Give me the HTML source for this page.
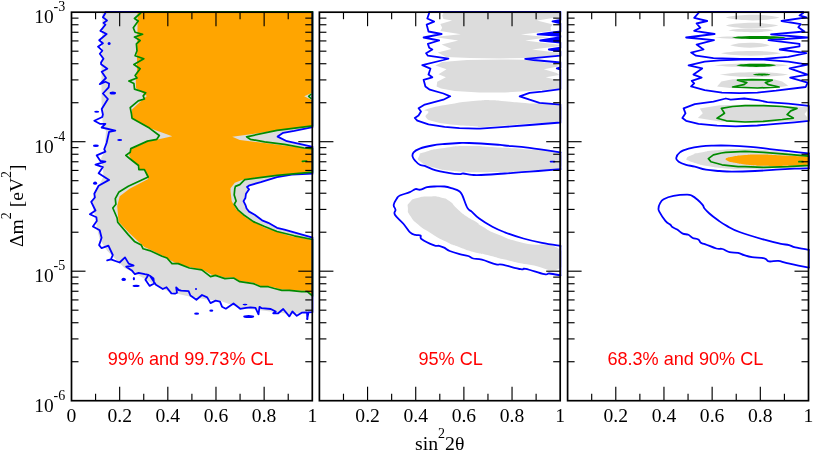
<!DOCTYPE html>
<html><head><meta charset="utf-8"><title>chart</title>
<style>
html,body{margin:0;padding:0;background:#fff;}
body{width:814px;height:452px;overflow:hidden;font-family:"Liberation Serif",serif;}
svg{display:block;will-change:transform;}
</style></head><body>
<svg width="814" height="452" viewBox="0 0 814 452">
<rect width="814" height="452" fill="#fff"/>
<defs><clipPath id="c0"><rect x="70.55" y="11.05" width="243.00" height="390.60"/></clipPath><clipPath id="c1"><rect x="318.45" y="11.05" width="243.00" height="390.60"/></clipPath><clipPath id="c2"><rect x="566.65" y="11.05" width="243.10" height="390.60"/></clipPath></defs><g clip-path="url(#c0)">
<path d="M102.5,11.9 L102.3,30.0 L101.5,62.0 L101.5,100.0 L102.0,115.0 L103.0,125.0 L106.0,131.0 L105.0,143.0 L104.0,152.0 L100.4,160.0 L102.9,167.0 L103.5,176.4 L98.6,186.3 L94.3,194.7 L91.8,202.4 L93.6,211.0 L96.1,218.5 L96.6,227.0 L99.7,239.5 L107.2,250.7 L119.6,263.0 L124.5,268.0 L133.0,272.0 L144.8,279.1 L157.0,286.0 L169.6,292.1 L189.4,296.5 L206.7,299.6 L219.8,300.8 L239.8,307.8 L264.6,310.8 L289.3,313.9 L310.4,312.7 L312.7,312.5 L312.7,237.7 L284.4,229.6 L277.0,227.8 L268.3,222.8 L262.1,220.3 L254.7,214.7 L249.1,211.6 L246.6,208.5 L245.4,204.8 L243.5,201.1 L245.4,198.0 L246.0,193.7 L249.1,189.3 L247.0,187.0 L249.5,185.3 L260.8,182.1 L277.0,177.1 L291.8,174.7 L312.7,173.7 L312.7,146.8 L301.7,144.3 L286.9,141.2 L277.6,136.6 L283.2,132.8 L294.3,130.9 L312.7,127.2 L312.7,11.9Z" fill="#dcdcdc" stroke="none" stroke-width="1.7" stroke-linejoin="round" stroke-linecap="round" />
<path d="M137.6,11.9 L137.6,20.0 L137.0,60.0 L137.0,70.0 L135.8,81.0 L136.0,88.0 L146.9,96.0 L140.0,102.0 L132.0,109.6 L132.0,118.2 L149.4,128.1 L172.3,136.2 L147.5,141.7 L130.8,149.2 L129.0,155.0 L131.0,159.0 L139.5,166.5 L139.0,169.6 L144.4,170.0 L148.2,178.9 L129.6,188.8 L119.7,196.2 L117.2,206.1 L118.4,219.8 L118.9,222.0 L129.5,233.3 L144.3,247.0 L151.0,250.0 L162.0,255.5 L174.5,262.4 L189.0,267.0 L201.8,269.2 L211.7,274.8 L219.8,275.8 L224.9,277.8 L233.6,277.2 L239.8,280.9 L253.4,282.8 L260.8,285.9 L268.3,285.9 L281.9,289.6 L301.7,290.8 L307.3,290.8 L312.7,295.0 L312.7,240.1 L289.3,235.8 L264.6,227.8 L246.0,217.8 L236.1,209.2 L231.7,201.1 L230.5,191.2 L230.5,188.3 L234.8,182.7 L244.7,179.0 L277.0,175.3 L312.7,171.6 L312.7,149.3 L264.6,143.1 L239.8,140.0 L232.3,136.8 L312.7,125.4 L312.7,100.6 L304.2,96.3 L312.7,92.6 L312.7,11.9Z" fill="#ffa500" stroke="none" stroke-width="1.7" stroke-linejoin="round" stroke-linecap="round" />
<path d="M105.4,11.9 L105.4,13.0 L102.9,17.3 L107.0,20.4 L103.5,22.9 L105.4,24.7 L100.4,30.9 L106.6,34.0 L99.2,40.2 L102.9,43.3 L98.0,46.7 L102.3,50.7 L99.8,53.8 L103.5,58.8 L101.0,62.5 L101.1,64.3 L107.3,68.7 L101.7,71.8 L106.0,78.0 L99.8,84.2 L105.4,81.7 L109.1,83.5 L108.7,87.3 L102.9,93.5 L107.9,99.0 L101.7,109.0 L102.9,114.5 L102.3,117.0 L94.3,120.7 L99.8,123.8 L105.4,123.8 L101.7,127.5 L115.3,130.6 L109.1,131.8 L106.6,143.0 L104.2,149.2 L105.4,151.7 L96.7,155.4 L100.4,161.0 L105.4,161.6 L95.5,164.7 L102.9,167.1 L98.6,173.3 L109.1,179.9 L98.6,185.7 L94.3,193.7 L94.9,197.5 L91.2,201.8 L95.5,210.5 L89.9,214.2 L96.4,217.3 L96.8,221.0 L92.9,226.5 L99.7,230.3 L101.6,237.7 L99.1,245.1 L101.6,248.2 L108.4,245.7 L112.8,255.0 L110.9,259.4 L107.2,260.4 L110.9,259.4 L119.6,262.5 L125.0,257.4 L128.7,263.6 L133.6,265.5 L126.2,266.7 L131.8,270.4 L134.9,274.2 L138.6,272.9 L144.8,274.2 L148.5,274.8 L145.4,279.7 L149.7,285.9 L154.1,283.5 L153.5,278.5 L149.8,275.6 L155.9,284.7 L162.8,289.0 L166.5,287.2 L171.4,293.4 L175.0,293.7 L177.0,292.8 L176.2,287.5 L178.7,290.0 L181.2,290.6 L188.6,291.2 L190.4,295.5 L196.4,299.8 L202.0,295.0 L207.2,297.4 L210.5,303.1 L215.6,300.6 L220.0,301.6 L222.0,306.7 L225.8,308.7 L233.5,303.5 L240.2,308.8 L246.0,307.8 L250.5,307.3 L255.5,307.9 L258.5,314.3 L259.5,306.8 L261.6,308.2 L270.8,309.0 L275.7,311.5 L273.2,313.3 L278.2,313.3 L283.2,309.0 L289.3,316.4 L292.4,311.5 L296.8,315.8 L301.7,312.7 L307.0,312.5 L307.3,318.5 L308.5,312.3 L312.7,312.1 L312.7,237.7 L284.4,229.6 L277.0,227.8 L268.3,222.8 L262.1,220.3 L254.7,214.7 L249.1,211.6 L246.6,208.5 L245.4,204.8 L243.5,201.1 L245.4,198.0 L246.0,193.7 L249.1,189.3 L247.0,187.0 L249.5,185.3 L260.8,182.1 L277.0,177.1 L291.8,174.7 L312.7,173.7 L312.7,146.8 L301.7,144.3 L286.9,141.2 L277.6,136.6 L283.2,132.8 L294.3,130.9 L312.7,127.2 L312.7,11.9Z" fill="none" stroke="#0000ff" stroke-width="1.8" stroke-linejoin="round" stroke-linecap="round" />
<path d="M140.7,11.9 L140.7,13.0 L134.5,18.5 L138.2,21.0 L133.3,27.8 L135.1,32.2 L142.6,34.3 L134.5,37.1 L140.1,40.5 L136.4,43.9 L137.0,50.7 L135.1,55.7 L143.8,58.8 L133.9,64.5 L140.1,68.7 L135.1,75.5 L137.0,78.0 L128.9,81.1 L133.9,83.5 L134.5,89.1 L145.7,92.8 L143.2,95.9 L144.4,99.0 L138.2,100.9 L130.2,107.7 L131.4,113.5 L132.0,118.2 L149.4,128.1 L159.3,135.5 L156.8,139.3 L147.5,141.1 L130.8,148.6 L130.2,152.3 L125.8,155.4 L129.6,158.5 L138.5,165.5 L138.9,169.6 L144.4,169.6 L148.2,177.0 L128.3,186.3 L119.0,191.9 L115.3,198.7 L115.9,204.3 L112.8,208.0 L117.1,218.0 L117.7,222.2 L128.2,234.6 L134.4,241.4 L141.3,245.1 L143.1,248.8 L149.7,250.6 L162.1,256.2 L167.0,258.0 L172.0,263.6 L178.2,263.6 L189.4,268.0 L201.8,269.8 L210.5,276.6 L215.4,275.4 L224.9,278.6 L233.6,278.0 L239.8,281.7 L253.4,283.6 L260.8,286.7 L268.3,286.7 L274.5,288.5 L281.9,290.4 L289.3,290.4 L301.7,291.6 L307.3,291.6 L312.7,296.0 L312.7,239.5 L294.3,235.8 L277.0,231.5 L264.6,226.5 L253.4,221.6 L243.5,214.7 L237.9,209.8 L234.2,204.2 L236.1,201.1 L234.2,194.9 L234.8,188.7 L235.4,186.4 L239.8,184.6 L244.7,179.6 L277.0,175.3 L312.7,172.2 L312.7,148.6 L304.2,148.0 L284.4,144.3 L264.6,141.8 L250.3,139.3 L246.6,136.8 L277.0,130.3 L312.7,125.9 L312.7,11.9Z" fill="none" stroke="#008b00" stroke-width="1.7" stroke-linejoin="round" stroke-linecap="round" />
<path d="M302.4,161.4 L306.7,161.0" fill="none" stroke="#008b00" stroke-width="1.7" stroke-linejoin="round" stroke-linecap="round" />
<path d="M311.0,94.2 L308.6,96.4 L311.0,98.4" fill="none" stroke="#008b00" stroke-width="1.5" stroke-linejoin="round" stroke-linecap="round" />
<ellipse cx="109.1" cy="43.6" rx="1.5" ry="1.5" fill="#0000ff"/>
<ellipse cx="112.8" cy="93.1" rx="3.2" ry="1.5" fill="#0000ff"/>
<ellipse cx="96.7" cy="111.7" rx="2.5" ry="1.0" fill="#0000ff"/>
<ellipse cx="119.7" cy="139.9" rx="2.5" ry="1.0" fill="#0000ff"/>
<ellipse cx="95.9" cy="145.7" rx="3.0" ry="1.3" fill="#0000ff"/>
<ellipse cx="95.1" cy="183.2" rx="2.0" ry="1.6" fill="#0000ff"/>
<ellipse cx="123.7" cy="279.4" rx="2.2" ry="1.6" fill="#0000ff"/>
<ellipse cx="133.9" cy="278.7" rx="1.1" ry="1.6" fill="#0000ff"/>
<ellipse cx="136.1" cy="285.9" rx="3.5" ry="1.1" fill="#0000ff"/>
<ellipse cx="196.0" cy="289.1" rx="1.0" ry="1.0" fill="#0000ff"/>
<ellipse cx="245.0" cy="304.6" rx="2.5" ry="0.8" fill="#0000ff"/>
<ellipse cx="196.6" cy="313.7" rx="2.5" ry="1.1" fill="#0000ff"/>
<ellipse cx="211.3" cy="310.7" rx="2.0" ry="1.1" fill="#0000ff"/>
<ellipse cx="248.7" cy="316.6" rx="5.5" ry="1.5" fill="#0000ff"/>
<ellipse cx="307.3" cy="318.9" rx="1.0" ry="1.2" fill="#0000ff"/>
</g>
<g clip-path="url(#c1)">
<path d="M444.0,11.9 L442.2,15.4 L443.4,19.0 L452.1,20.4 L440.3,24.1 L442.2,27.8 L440.3,30.9 L460.8,34.3 L434.1,37.1 L458.3,40.5 L441.6,44.6 L451.5,48.9 L437.8,52.6 L445.9,56.9 L470.0,58.1 L500.0,58.4 L525.0,58.0 L560.6,55.3 L560.6,53.0 L532.0,49.5 L560.6,46.0 L560.6,45.0 L525.2,40.5 L549.0,37.2 L520.9,34.4 L551.0,31.0 L550.6,27.0 L553.0,24.5 L537.0,20.4 L556.0,17.6 L560.6,16.8 L560.6,11.9Z" fill="#dcdcdc" stroke="none" stroke-width="1.7" stroke-linejoin="round" stroke-linecap="round" />
<path d="M442.2,61.9 L467.0,59.9 L500.0,59.4 L525.0,59.8 L554.3,63.7 L559.3,66.2 L543.8,69.3 L556.8,73.0 L559.3,74.9 L545.7,77.3 L559.3,80.4 L559.3,89.1 L529.6,91.0 L504.8,92.5 L479.3,92.5 L454.6,91.0 L441.0,88.5 L436.6,86.6 L437.2,81.7 L445.9,77.3 L438.5,74.3 L446.5,69.3 L435.4,65.6Z" fill="#dcdcdc" stroke="none" stroke-width="1.7" stroke-linejoin="round" stroke-linecap="round" />
<path d="M427.3,108.9 C434.3,106.6 440.7,105.6 454.6,103.4 C468.5,101.2 469.3,101.4 479.3,100.6 C489.3,99.8 485.2,100.1 492.0,100.3 C498.8,100.5 494.8,100.4 504.8,101.2 C514.8,102.0 515.1,102.3 529.6,103.4 C544.1,104.5 551.4,100.5 559.3,105.2 C567.2,109.9 567.2,116.1 559.3,121.0 C551.4,125.9 544.1,122.3 529.6,123.5 C515.1,124.7 518.0,124.5 504.8,125.4 C491.6,126.3 487.5,126.7 480.0,127.0 C472.5,127.3 482.9,127.0 476.8,126.5 C470.7,126.0 467.9,126.2 457.0,125.0 C446.1,123.8 444.2,123.9 435.9,121.9 C427.6,119.9 428.0,120.2 426.0,117.6 C424.0,115.0 428.2,114.3 428.5,112.0 C428.8,109.7 420.3,111.2 427.3,108.9Z" fill="#dcdcdc"/>
<path d="M429.2,11.9 L429.2,13.0 L427.3,18.5 L434.1,21.6 L426.7,24.7 L428.5,31.5 L441.6,34.0 L423.6,37.5 L439.1,40.5 L427.9,43.9 L429.2,47.7 L432.3,49.5 L426.1,53.2 L427.9,55.7 L448.4,58.6 L443.4,60.0 L422.3,65.2 L430.4,68.7 L428.5,74.6 L432.3,77.3 L423.6,79.8 L425.4,86.6 L429.8,89.7 L443.4,93.5 L450.2,96.3 L443.4,99.7 L424.8,104.6 L418.6,108.3 L421.0,111.5 L418.5,115.5 L414.8,117.9 L417.3,120.7 L428.5,124.4 L444.6,126.9 L459.4,128.1 L476.8,128.7 L480.0,128.7 L504.8,126.9 L529.6,125.0 L560.6,122.5 L560.6,104.6 L539.5,102.8 L529.6,99.7 L519.7,96.3 L529.6,92.8 L542.0,91.6 L560.6,89.1 L560.6,69.7 L556.8,68.4 L560.6,67.5 L560.6,62.5 L533.3,60.0 L525.2,58.8 L560.6,55.7 L560.6,51.4 L548.8,49.5 L560.6,47.7 L560.6,42.7 L540.1,40.5 L560.6,37.1 L560.6,35.9 L537.6,34.4 L560.6,31.5 L560.6,23.5 L552.5,21.4 L560.6,19.8 L560.6,11.9Z" fill="none" stroke="#0000ff" stroke-width="1.8" stroke-linejoin="round" stroke-linecap="round" />
<path d="M560.6,23.5 L552.5,21.4 L560.6,19.8Z" fill="#0000ff" stroke="none" stroke-width="1.7" stroke-linejoin="round" stroke-linecap="round" />
<path d="M560.6,35.9 L537.6,34.4 L560.6,31.5Z" fill="#0000ff" stroke="none" stroke-width="1.7" stroke-linejoin="round" stroke-linecap="round" />
<path d="M560.6,42.7 L540.1,40.5 L560.6,37.1Z" fill="#0000ff" stroke="none" stroke-width="1.7" stroke-linejoin="round" stroke-linecap="round" />
<path d="M560.6,51.4 L548.8,49.5 L560.6,47.7Z" fill="#0000ff" stroke="none" stroke-width="1.7" stroke-linejoin="round" stroke-linecap="round" />
<path d="M560.6,69.7 L556.8,68.4 L560.6,67.5Z" fill="#0000ff" stroke="none" stroke-width="1.7" stroke-linejoin="round" stroke-linecap="round" />
<path d="M419.2,156.0 C420.7,152.4 417.5,154.4 426.0,151.7 C434.5,149.0 430.2,149.8 444.6,147.9 C459.0,146.0 452.6,146.3 469.3,146.1 C486.0,145.9 474.7,146.2 494.8,147.3 C514.9,148.4 508.1,147.4 529.6,149.5 C551.1,151.6 549.4,147.3 559.3,153.5 C569.2,159.7 569.2,162.3 559.3,168.0 C549.4,173.7 547.8,169.1 529.6,170.5 C511.4,171.9 516.4,171.8 504.8,172.3 C493.2,172.8 505.8,171.9 494.8,171.9 C483.8,171.9 485.7,172.6 471.8,172.3 C457.9,172.0 465.2,172.5 453.2,171.1 C441.2,169.7 446.4,170.9 435.9,168.0 C425.4,165.1 427.2,166.4 421.6,162.4 C416.0,158.4 417.7,159.6 419.2,156.0Z" fill="#dcdcdc"/>
<path d="M560.6,152.3 C554.4,151.4 540.8,149.3 529.6,147.9 C518.4,146.5 511.8,146.2 504.8,145.5 C497.8,144.8 501.9,145.0 494.8,144.5 C487.7,144.0 476.4,143.3 469.3,143.0 C462.2,142.7 464.3,142.8 459.4,143.0 C454.5,143.2 450.0,143.5 444.6,144.0 C439.2,144.5 437.2,144.6 432.2,145.5 C427.2,146.4 423.5,147.2 419.8,148.6 C416.1,150.0 415.0,150.7 413.6,152.3 C412.2,153.9 412.2,154.9 412.6,156.6 C413.0,158.3 414.0,159.4 415.4,161.0 C416.8,162.6 417.9,163.8 419.8,164.8 C421.7,165.8 421.5,164.8 424.7,165.9 C427.9,167.0 431.2,169.0 435.9,170.4 C440.6,171.8 443.6,172.1 448.3,172.9 C453.0,173.7 456.4,174.1 459.4,174.2 C462.4,174.3 460.7,173.4 463.2,173.5 C465.7,173.6 468.2,174.5 471.8,174.8 C475.4,175.1 474.4,175.3 481.0,175.0 C487.6,174.7 495.1,174.2 504.8,173.5 C514.5,172.8 518.4,172.6 529.6,171.7 C540.8,170.8 554.4,169.7 560.6,169.2" fill="none" stroke="#0000ff" stroke-width="1.8" stroke-linejoin="round" stroke-linecap="round"/>
<path d="M560.6,152.3 L560.6,169.2" fill="none" stroke="#0000ff" stroke-width="1.8" stroke-linejoin="round" stroke-linecap="round" />
<path d="M550.6,161.6 L554.5,161.6" fill="none" stroke="#0000ff" stroke-width="1.8" stroke-linejoin="round" stroke-linecap="round" />
<path d="M407.9,208.5 C407.7,203.9 406.7,205.8 409.8,202.3 C412.9,198.8 410.6,200.0 417.2,198.0 C423.8,196.0 421.7,196.6 429.6,196.4 C437.5,196.2 434.2,195.8 440.8,197.4 C447.4,199.0 444.0,197.4 449.4,201.1 C454.8,204.8 451.1,203.3 456.9,208.5 C462.7,213.7 460.2,212.0 466.8,216.6 C473.4,221.2 471.6,219.0 476.7,222.2 C481.8,225.4 474.7,222.1 482.0,226.3 C489.3,230.5 484.8,229.3 498.6,234.8 C512.4,240.3 503.2,238.1 523.4,242.9 C543.6,247.7 547.3,240.6 559.3,249.1 C571.3,257.6 569.2,263.3 559.3,268.5 C549.4,273.7 547.8,267.8 529.6,264.8 C511.4,261.8 518.2,262.6 504.8,259.5 C491.4,256.4 499.4,257.8 489.3,255.4 C479.2,253.0 484.3,255.0 474.4,252.3 C464.5,249.6 469.5,251.0 459.6,247.3 C449.7,243.6 454.6,246.1 444.7,241.1 C434.8,236.1 438.5,237.8 429.8,232.4 C421.1,227.0 425.2,230.5 418.7,225.0 C412.2,219.5 414.0,221.5 410.4,216.0 C406.8,210.5 408.1,213.1 407.9,208.5Z" fill="#dcdcdc"/>
<path d="M560.6,275.4 C558.4,275.0 552.6,273.7 549.4,273.5 C546.2,273.3 549.1,275.1 544.4,274.2 C539.7,273.3 530.5,269.8 525.8,268.8 C521.1,267.8 525.6,270.0 520.9,269.2 C516.2,268.4 507.3,265.6 502.3,264.6 C497.3,263.6 500.2,265.3 496.1,264.3 C492.0,263.3 486.5,260.9 481.9,259.7 C477.3,258.5 475.9,259.2 473.2,258.5 C470.5,257.8 470.9,256.9 468.2,256.0 C465.5,255.1 463.3,255.1 459.6,254.1 C455.9,253.1 452.8,252.3 449.7,251.0 C446.6,249.7 446.2,248.6 444.1,247.6 C442.0,246.6 441.1,246.2 439.1,245.8 C437.1,245.4 437.7,246.7 434.2,245.4 C430.7,244.1 424.5,241.3 421.8,239.3 C419.1,237.3 421.7,236.4 420.5,235.5 C419.3,234.6 417.6,235.5 415.6,234.9 C413.6,234.3 412.8,234.9 410.4,232.7 C408.0,230.5 406.7,227.6 403.6,224.0 C400.5,220.4 396.5,217.5 394.9,214.7 C393.3,211.9 395.7,211.8 395.5,209.8 C395.3,207.8 393.4,207.0 393.7,204.8 C394.0,202.6 395.6,200.5 396.8,198.6 C398.0,196.7 397.3,196.8 399.9,195.5 C402.5,194.2 406.7,193.5 409.8,192.2 C412.9,190.9 413.3,189.6 415.4,189.1 C417.5,188.6 418.0,190.1 420.3,189.7 C422.6,189.3 424.2,187.8 427.1,187.2 C430.0,186.6 431.1,186.6 434.6,186.5 C438.1,186.4 440.8,186.1 444.5,186.5 C448.2,186.9 450.2,187.8 453.2,188.7 C456.2,189.6 457.5,189.8 459.3,191.2 C461.1,192.6 460.8,192.2 462.4,195.5 C464.0,198.8 465.5,204.7 467.4,207.9 C469.3,211.1 469.3,209.5 471.7,211.6 C474.1,213.7 475.1,215.5 479.2,218.5 C483.3,221.5 487.3,224.0 492.4,226.8 C497.5,229.6 498.6,230.0 504.8,232.3 C511.0,234.6 516.0,236.4 523.4,238.5 C530.8,240.6 534.6,241.4 542.0,242.9 C549.4,244.4 556.9,245.4 560.6,246.0" fill="none" stroke="#0000ff" stroke-width="1.8" stroke-linejoin="round" stroke-linecap="round"/>
<path d="M560.6,246.0 L560.6,275.4" fill="none" stroke="#0000ff" stroke-width="1.8" stroke-linejoin="round" stroke-linecap="round" />
</g>
<g clip-path="url(#c2)">
<path d="M725.8,17.6 C739.3,13.9 766.2,13.9 779.7,17.6 C766.2,21.3 739.3,21.3 725.8,17.6 Z" fill="#dcdcdc"/>
<path d="M725.8,25.6 C738.9,21.9 765.2,21.9 778.4,25.6 C765.2,29.3 738.9,29.3 725.8,25.6 Z" fill="#dcdcdc"/>
<path d="M728.2,30.3 C739.5,27.8 762.2,27.8 773.5,30.3 C762.2,32.8 739.5,32.8 728.2,30.3 Z" fill="#dcdcdc"/>
<path d="M714.0,37.5 C733.8,35.5 773.5,35.5 793.3,37.5 C773.5,39.5 733.8,39.5 714.0,37.5 Z" fill="#dcdcdc"/>
<path d="M732.0,37.5 C736.3,35.4 781.6,35.4 785.9,37.5 C781.6,39.6 736.3,39.6 732.0,37.5 Z" fill="#008b00"/>
<path d="M730.1,45.2 C740.0,41.9 759.9,41.9 769.8,45.2 C759.9,48.5 740.0,48.5 730.1,45.2 Z" fill="#dcdcdc"/>
<path d="M720.8,53.3 C735.8,50.2 765.9,50.2 780.9,53.3 C765.9,56.4 735.8,56.4 720.8,53.3 Z" fill="#dcdcdc"/>
<path d="M698.5,11.9 L698.5,13.0 L694.2,17.9 L707.2,21.0 L696.6,23.5 L700.4,27.8 L694.2,30.9 L714.6,34.0 L686.1,37.5 L714.0,40.2 L696.6,44.6 L703.5,49.5 L691.1,52.6 L696.0,55.7 L713.4,58.2 L740.0,58.8 L763.6,58.8 L788.3,56.9 L806.3,53.2 L779.7,49.5 L799.5,46.4 L799.5,43.9 L768.5,40.2 L807.6,37.5 L771.0,34.3 L804.5,31.5 L798.3,27.2 L800.7,24.1 L781.5,21.0 L806.3,17.3 L799.5,15.4 L803.2,13.0 L803.2,11.9Z" fill="none" stroke="#0000ff" stroke-width="1.8" stroke-linejoin="round" stroke-linecap="round" />
<path d="M714.6,65.3 C733.0,62.8 769.9,62.8 788.3,65.3 C769.9,67.8 733.0,67.8 714.6,65.3 Z" fill="#dcdcdc"/>
<path d="M736.3,65.3 C739.5,63.2 772.8,63.2 776.0,65.3 C772.8,67.4 739.5,67.4 736.3,65.3 Z" fill="#008b00"/>
<path d="M719.6,74.6 C736.8,71.3 771.1,71.3 788.3,74.6 C771.1,77.9 736.8,77.9 719.6,74.6 Z" fill="#dcdcdc"/>
<path d="M753.0,74.6 C754.4,73.1 769.0,73.1 770.4,74.6 C769.0,76.1 754.4,76.1 753.0,74.6 Z" fill="#008b00"/>
<path d="M717.1,86.4 L721.4,81.4 L732.6,79.2 L752.0,78.7 L773.5,79.2 L782.2,81.4 L788.3,85.7 L775.0,88.0 L752.0,88.6 L730.0,88.0Z" fill="#dcdcdc" stroke="none" stroke-width="1.7" stroke-linejoin="round" stroke-linecap="round" />
<path d="M737.5,80.2 L752.0,79.6 L772.2,80.2 L765.4,82.6 L768.5,84.7 L779.1,87.0 L757.4,88.0 L732.6,87.0 L743.7,84.7 L746.8,82.6Z" fill="none" stroke="#008b00" stroke-width="1.7" stroke-linejoin="round" stroke-linecap="round" />
<path d="M740.0,59.7 L719.6,60.3 L704.7,61.6 L688.6,65.3 L702.2,68.4 L693.5,74.6 L701.6,77.7 L691.7,80.8 L694.2,83.3 L691.1,86.4 L704.7,90.1 L722.0,92.6 L739.4,93.2 L757.4,92.6 L776.0,90.7 L805.7,87.0 L807.6,82.6 L790.2,77.7 L807.6,74.6 L789.6,68.4 L807.6,64.7 L788.3,61.6 L763.6,59.7Z" fill="none" stroke="#0000ff" stroke-width="1.8" stroke-linejoin="round" stroke-linecap="round" />
<path d="M699.7,108.4 L719.6,105.3 L750.0,104.4 L780.0,105.5 L806.9,106.9 L806.9,111.0 L804.5,114.0 L806.9,117.0 L806.9,120.2 L780.0,121.8 L750.0,122.8 L719.6,121.4 L697.9,118.1 L702.8,113.3Z" fill="#dcdcdc" stroke="none" stroke-width="1.7" stroke-linejoin="round" stroke-linecap="round" />
<path d="M721.4,108.4 L732.6,106.5 L745.0,105.7 L763.6,105.7 L782.2,106.5 L797.0,108.4 L790.8,110.9 L787.1,114.6 L793.3,118.1 L782.2,119.5 L763.6,121.4 L745.0,122.0 L726.4,120.8 L717.1,118.3 L724.5,113.3Z" fill="none" stroke="#008b00" stroke-width="1.7" stroke-linejoin="round" stroke-linecap="round" />
<path d="M683.6,108.4 L694.8,104.1 L713.4,101.6 L725.8,98.5 L730.7,99.7 L744.3,98.5 L759.2,100.3 L767.3,102.2 L788.3,103.7 L808.9,105.9 L808.9,120.8 L794.5,122.3 L776.0,123.9 L757.4,125.5 L735.7,126.4 L717.1,125.7 L698.5,123.9 L686.1,120.8 L682.4,118.1 L685.5,113.3Z" fill="none" stroke="#0000ff" stroke-width="1.8" stroke-linejoin="round" stroke-linecap="round" />
<path d="M686.7,158.3 C687.7,156.4 687.2,157.0 692.0,155.0 C696.8,153.0 691.8,154.1 701.0,152.4 C710.2,150.7 704.9,151.0 719.6,149.9 C734.3,148.8 728.3,148.8 745.0,149.0 C761.7,149.2 755.4,149.4 769.8,150.6 C784.2,151.8 775.9,151.2 788.3,152.7 C800.7,154.2 797.1,153.9 807.0,155.0 C816.9,156.1 814.3,152.2 818.0,156.0 C821.7,159.8 821.7,162.8 818.0,166.5 C814.3,170.2 816.9,166.6 807.0,167.0 C797.1,167.4 800.7,167.1 788.3,167.6 C775.9,168.1 784.2,167.9 769.8,168.5 C755.4,169.1 759.7,169.3 745.0,169.3 C730.3,169.3 738.4,169.6 725.8,168.5 C713.2,167.4 717.5,167.9 707.2,166.0 C696.9,164.1 700.9,164.6 694.8,162.9 C688.7,161.2 691.7,162.3 689.0,160.8 C686.3,159.3 685.7,160.2 686.7,158.3Z" fill="#dcdcdc"/>
<path d="M725.8,159.2 C725.8,158.2 725.3,158.6 727.5,157.8 C729.7,157.0 726.5,157.6 732.3,156.7 C738.1,155.8 735.8,155.8 745.0,155.1 C754.2,154.4 747.6,154.5 760.0,154.6 C772.4,154.7 765.9,154.8 782.2,155.5 C798.5,156.2 797.0,156.1 808.9,156.7 C820.8,157.3 815.0,154.7 818.0,157.2 C821.0,159.7 821.0,161.8 818.0,164.3 C815.0,166.8 818.8,164.3 808.9,164.8 C799.0,165.3 803.4,165.5 788.3,165.8 C773.2,166.1 778.0,166.2 763.6,165.8 C749.2,165.4 755.4,165.7 745.0,164.5 C734.6,163.3 738.1,163.5 732.3,162.3 C726.5,161.1 729.7,161.8 727.5,160.8 C725.3,159.8 725.8,160.2 725.8,159.2Z" fill="#ffa500"/>
<path d="M708.4,158.6 L713.4,154.9 L721.4,153.0 L725.8,152.4 L745.0,151.4 L763.6,152.4 L782.2,153.9 L808.9,156.1 L808.9,165.4 L788.3,166.6 L763.6,167.3 L745.0,166.6 L738.2,166.6 L722.0,164.8 L710.9,161.7Z" fill="none" stroke="#008b00" stroke-width="1.7" stroke-linejoin="round" stroke-linecap="round" />
<path d="M798.9,161.7 L803.0,161.7" fill="none" stroke="#008b00" stroke-width="1.7" stroke-linejoin="round" stroke-linecap="round" />
<path d="M808.9,168.3 C806.0,168.4 801.1,168.4 794.5,168.7 C787.9,169.0 783.9,169.2 776.0,169.7 C768.1,170.2 763.7,170.6 754.9,171.0 C746.1,171.4 739.1,171.6 732.0,171.6 C724.9,171.6 724.8,171.4 719.6,171.0 C714.4,170.6 710.9,170.6 705.9,169.7 C700.9,168.8 698.8,167.6 694.8,166.6 C690.8,165.6 689.3,165.8 686.1,164.8 C682.9,163.8 680.7,163.1 678.7,161.7 C676.7,160.3 676.0,159.9 676.2,158.0 C676.4,156.1 677.4,154.3 679.9,152.4 C682.4,150.5 684.4,149.9 688.6,148.7 C692.8,147.5 696.0,147.0 701.0,146.4 C706.0,145.8 707.7,145.8 713.4,145.6 C719.1,145.4 722.1,145.4 729.5,145.6 C736.9,145.8 742.4,146.1 750.5,146.8 C758.6,147.5 762.2,148.2 769.8,149.1 C777.4,150.0 780.5,150.3 788.3,151.2 C796.1,152.1 804.8,153.0 808.9,153.4" fill="none" stroke="#0000ff" stroke-width="1.8" stroke-linejoin="round" stroke-linecap="round"/>
<path d="M808.9,153.4 L808.9,168.3" fill="none" stroke="#0000ff" stroke-width="1.8" stroke-linejoin="round" stroke-linecap="round" />
<path d="M808.9,267.6 C806.8,267.2 803.0,266.5 798.4,265.6 C793.8,264.7 790.0,263.8 786.0,262.9 C782.0,262.0 781.6,261.2 778.2,260.9 C774.8,260.6 771.7,261.9 768.9,261.4 C766.1,260.9 767.7,259.1 764.3,258.3 C760.9,257.5 755.9,257.8 751.9,257.2 C747.9,256.6 747.0,256.1 744.2,255.2 C741.4,254.3 740.9,253.5 738.0,252.9 C735.1,252.3 732.6,252.9 729.5,252.1 C726.4,251.3 725.1,249.7 722.5,249.0 C719.9,248.3 719.7,249.4 716.3,248.5 C712.9,247.6 708.6,245.4 705.5,244.3 C702.4,243.2 702.2,243.8 700.8,242.8 C699.4,241.8 699.9,240.5 698.3,239.5 C696.7,238.5 694.7,238.9 692.7,238.0 C690.7,237.1 690.4,235.7 688.4,234.8 C686.4,233.9 685.0,234.6 682.8,233.6 C680.6,232.6 679.3,230.9 677.2,229.6 C675.1,228.3 673.7,228.1 672.3,227.1 C670.9,226.1 671.8,225.9 670.4,224.7 C669.0,223.5 667.6,223.5 665.4,220.9 C663.2,218.3 660.7,214.2 659.3,211.6 C657.9,209.0 658.5,209.5 658.6,207.9 C658.7,206.3 658.9,205.3 659.9,203.6 C660.9,201.9 660.9,200.8 663.6,199.3 C666.3,197.8 668.8,196.8 673.5,195.9 C678.2,195.0 683.4,194.7 687.1,194.7 C690.8,194.7 690.1,195.0 692.1,195.9 C694.1,196.8 694.9,197.5 697.0,199.3 C699.1,201.1 701.1,203.0 702.6,204.8 C704.1,206.6 703.1,206.8 704.5,208.5 C705.9,210.2 706.7,211.1 709.4,213.5 C712.1,215.9 714.6,217.8 718.1,220.3 C721.6,222.8 722.5,223.6 726.8,225.9 C731.1,228.2 732.0,229.2 739.5,232.0 C747.0,234.8 756.2,237.4 764.3,239.7 C772.4,242.0 774.8,242.5 779.8,243.6 C784.8,244.7 786.0,244.3 789.1,245.1 C792.2,245.9 791.3,246.5 795.3,247.4 C799.3,248.3 806.2,249.3 808.9,249.8" fill="none" stroke="#0000ff" stroke-width="1.8" stroke-linejoin="round" stroke-linecap="round"/>
<path d="M808.9,249.8 L808.9,267.6" fill="none" stroke="#0000ff" stroke-width="1.8" stroke-linejoin="round" stroke-linecap="round" />
</g>
<g stroke="#000" stroke-width="1.15"><line x1="95.58" y1="400.70" x2="95.58" y2="393.70"/><line x1="95.58" y1="12.20" x2="95.58" y2="19.20"/><line x1="119.66" y1="400.70" x2="119.66" y2="386.70"/><line x1="119.66" y1="12.20" x2="119.66" y2="26.20"/><line x1="143.74" y1="400.70" x2="143.74" y2="393.70"/><line x1="143.74" y1="12.20" x2="143.74" y2="19.20"/><line x1="167.82" y1="400.70" x2="167.82" y2="386.70"/><line x1="167.82" y1="12.20" x2="167.82" y2="26.20"/><line x1="191.90" y1="400.70" x2="191.90" y2="393.70"/><line x1="191.90" y1="12.20" x2="191.90" y2="19.20"/><line x1="215.98" y1="400.70" x2="215.98" y2="386.70"/><line x1="215.98" y1="12.20" x2="215.98" y2="26.20"/><line x1="240.06" y1="400.70" x2="240.06" y2="393.70"/><line x1="240.06" y1="12.20" x2="240.06" y2="19.20"/><line x1="264.14" y1="400.70" x2="264.14" y2="386.70"/><line x1="264.14" y1="12.20" x2="264.14" y2="26.20"/><line x1="288.22" y1="400.70" x2="288.22" y2="393.70"/><line x1="288.22" y1="12.20" x2="288.22" y2="19.20"/><line x1="71.50" y1="141.70" x2="85.50" y2="141.70"/><line x1="312.30" y1="141.70" x2="298.30" y2="141.70"/><line x1="71.50" y1="102.72" x2="78.50" y2="102.72"/><line x1="312.30" y1="102.72" x2="305.30" y2="102.72"/><line x1="71.50" y1="79.91" x2="78.50" y2="79.91"/><line x1="312.30" y1="79.91" x2="305.30" y2="79.91"/><line x1="71.50" y1="63.73" x2="78.50" y2="63.73"/><line x1="312.30" y1="63.73" x2="305.30" y2="63.73"/><line x1="71.50" y1="51.18" x2="78.50" y2="51.18"/><line x1="312.30" y1="51.18" x2="305.30" y2="51.18"/><line x1="71.50" y1="40.93" x2="78.50" y2="40.93"/><line x1="312.30" y1="40.93" x2="305.30" y2="40.93"/><line x1="71.50" y1="32.26" x2="78.50" y2="32.26"/><line x1="312.30" y1="32.26" x2="305.30" y2="32.26"/><line x1="71.50" y1="24.75" x2="78.50" y2="24.75"/><line x1="312.30" y1="24.75" x2="305.30" y2="24.75"/><line x1="71.50" y1="18.13" x2="78.50" y2="18.13"/><line x1="312.30" y1="18.13" x2="305.30" y2="18.13"/><line x1="71.50" y1="271.20" x2="85.50" y2="271.20"/><line x1="312.30" y1="271.20" x2="298.30" y2="271.20"/><line x1="71.50" y1="232.22" x2="78.50" y2="232.22"/><line x1="312.30" y1="232.22" x2="305.30" y2="232.22"/><line x1="71.50" y1="209.41" x2="78.50" y2="209.41"/><line x1="312.30" y1="209.41" x2="305.30" y2="209.41"/><line x1="71.50" y1="193.23" x2="78.50" y2="193.23"/><line x1="312.30" y1="193.23" x2="305.30" y2="193.23"/><line x1="71.50" y1="180.68" x2="78.50" y2="180.68"/><line x1="312.30" y1="180.68" x2="305.30" y2="180.68"/><line x1="71.50" y1="170.43" x2="78.50" y2="170.43"/><line x1="312.30" y1="170.43" x2="305.30" y2="170.43"/><line x1="71.50" y1="161.76" x2="78.50" y2="161.76"/><line x1="312.30" y1="161.76" x2="305.30" y2="161.76"/><line x1="71.50" y1="154.25" x2="78.50" y2="154.25"/><line x1="312.30" y1="154.25" x2="305.30" y2="154.25"/><line x1="71.50" y1="147.63" x2="78.50" y2="147.63"/><line x1="312.30" y1="147.63" x2="305.30" y2="147.63"/><line x1="71.50" y1="361.72" x2="78.50" y2="361.72"/><line x1="312.30" y1="361.72" x2="305.30" y2="361.72"/><line x1="71.50" y1="338.91" x2="78.50" y2="338.91"/><line x1="312.30" y1="338.91" x2="305.30" y2="338.91"/><line x1="71.50" y1="322.73" x2="78.50" y2="322.73"/><line x1="312.30" y1="322.73" x2="305.30" y2="322.73"/><line x1="71.50" y1="310.18" x2="78.50" y2="310.18"/><line x1="312.30" y1="310.18" x2="305.30" y2="310.18"/><line x1="71.50" y1="299.93" x2="78.50" y2="299.93"/><line x1="312.30" y1="299.93" x2="305.30" y2="299.93"/><line x1="71.50" y1="291.26" x2="78.50" y2="291.26"/><line x1="312.30" y1="291.26" x2="305.30" y2="291.26"/><line x1="71.50" y1="283.75" x2="78.50" y2="283.75"/><line x1="312.30" y1="283.75" x2="305.30" y2="283.75"/><line x1="71.50" y1="277.13" x2="78.50" y2="277.13"/><line x1="312.30" y1="277.13" x2="305.30" y2="277.13"/><line x1="343.48" y1="400.70" x2="343.48" y2="393.70"/><line x1="343.48" y1="12.20" x2="343.48" y2="19.20"/><line x1="367.56" y1="400.70" x2="367.56" y2="386.70"/><line x1="367.56" y1="12.20" x2="367.56" y2="26.20"/><line x1="391.64" y1="400.70" x2="391.64" y2="393.70"/><line x1="391.64" y1="12.20" x2="391.64" y2="19.20"/><line x1="415.72" y1="400.70" x2="415.72" y2="386.70"/><line x1="415.72" y1="12.20" x2="415.72" y2="26.20"/><line x1="439.80" y1="400.70" x2="439.80" y2="393.70"/><line x1="439.80" y1="12.20" x2="439.80" y2="19.20"/><line x1="463.88" y1="400.70" x2="463.88" y2="386.70"/><line x1="463.88" y1="12.20" x2="463.88" y2="26.20"/><line x1="487.96" y1="400.70" x2="487.96" y2="393.70"/><line x1="487.96" y1="12.20" x2="487.96" y2="19.20"/><line x1="512.04" y1="400.70" x2="512.04" y2="386.70"/><line x1="512.04" y1="12.20" x2="512.04" y2="26.20"/><line x1="536.12" y1="400.70" x2="536.12" y2="393.70"/><line x1="536.12" y1="12.20" x2="536.12" y2="19.20"/><line x1="319.40" y1="141.70" x2="333.40" y2="141.70"/><line x1="560.20" y1="141.70" x2="546.20" y2="141.70"/><line x1="319.40" y1="102.72" x2="326.40" y2="102.72"/><line x1="560.20" y1="102.72" x2="553.20" y2="102.72"/><line x1="319.40" y1="79.91" x2="326.40" y2="79.91"/><line x1="560.20" y1="79.91" x2="553.20" y2="79.91"/><line x1="319.40" y1="63.73" x2="326.40" y2="63.73"/><line x1="560.20" y1="63.73" x2="553.20" y2="63.73"/><line x1="319.40" y1="51.18" x2="326.40" y2="51.18"/><line x1="560.20" y1="51.18" x2="553.20" y2="51.18"/><line x1="319.40" y1="40.93" x2="326.40" y2="40.93"/><line x1="560.20" y1="40.93" x2="553.20" y2="40.93"/><line x1="319.40" y1="32.26" x2="326.40" y2="32.26"/><line x1="560.20" y1="32.26" x2="553.20" y2="32.26"/><line x1="319.40" y1="24.75" x2="326.40" y2="24.75"/><line x1="560.20" y1="24.75" x2="553.20" y2="24.75"/><line x1="319.40" y1="18.13" x2="326.40" y2="18.13"/><line x1="560.20" y1="18.13" x2="553.20" y2="18.13"/><line x1="319.40" y1="271.20" x2="333.40" y2="271.20"/><line x1="560.20" y1="271.20" x2="546.20" y2="271.20"/><line x1="319.40" y1="232.22" x2="326.40" y2="232.22"/><line x1="560.20" y1="232.22" x2="553.20" y2="232.22"/><line x1="319.40" y1="209.41" x2="326.40" y2="209.41"/><line x1="560.20" y1="209.41" x2="553.20" y2="209.41"/><line x1="319.40" y1="193.23" x2="326.40" y2="193.23"/><line x1="560.20" y1="193.23" x2="553.20" y2="193.23"/><line x1="319.40" y1="180.68" x2="326.40" y2="180.68"/><line x1="560.20" y1="180.68" x2="553.20" y2="180.68"/><line x1="319.40" y1="170.43" x2="326.40" y2="170.43"/><line x1="560.20" y1="170.43" x2="553.20" y2="170.43"/><line x1="319.40" y1="161.76" x2="326.40" y2="161.76"/><line x1="560.20" y1="161.76" x2="553.20" y2="161.76"/><line x1="319.40" y1="154.25" x2="326.40" y2="154.25"/><line x1="560.20" y1="154.25" x2="553.20" y2="154.25"/><line x1="319.40" y1="147.63" x2="326.40" y2="147.63"/><line x1="560.20" y1="147.63" x2="553.20" y2="147.63"/><line x1="319.40" y1="361.72" x2="326.40" y2="361.72"/><line x1="560.20" y1="361.72" x2="553.20" y2="361.72"/><line x1="319.40" y1="338.91" x2="326.40" y2="338.91"/><line x1="560.20" y1="338.91" x2="553.20" y2="338.91"/><line x1="319.40" y1="322.73" x2="326.40" y2="322.73"/><line x1="560.20" y1="322.73" x2="553.20" y2="322.73"/><line x1="319.40" y1="310.18" x2="326.40" y2="310.18"/><line x1="560.20" y1="310.18" x2="553.20" y2="310.18"/><line x1="319.40" y1="299.93" x2="326.40" y2="299.93"/><line x1="560.20" y1="299.93" x2="553.20" y2="299.93"/><line x1="319.40" y1="291.26" x2="326.40" y2="291.26"/><line x1="560.20" y1="291.26" x2="553.20" y2="291.26"/><line x1="319.40" y1="283.75" x2="326.40" y2="283.75"/><line x1="560.20" y1="283.75" x2="553.20" y2="283.75"/><line x1="319.40" y1="277.13" x2="326.40" y2="277.13"/><line x1="560.20" y1="277.13" x2="553.20" y2="277.13"/><line x1="591.69" y1="400.70" x2="591.69" y2="393.70"/><line x1="591.69" y1="12.20" x2="591.69" y2="19.20"/><line x1="615.78" y1="400.70" x2="615.78" y2="386.70"/><line x1="615.78" y1="12.20" x2="615.78" y2="26.20"/><line x1="639.87" y1="400.70" x2="639.87" y2="393.70"/><line x1="639.87" y1="12.20" x2="639.87" y2="19.20"/><line x1="663.96" y1="400.70" x2="663.96" y2="386.70"/><line x1="663.96" y1="12.20" x2="663.96" y2="26.20"/><line x1="688.05" y1="400.70" x2="688.05" y2="393.70"/><line x1="688.05" y1="12.20" x2="688.05" y2="19.20"/><line x1="712.14" y1="400.70" x2="712.14" y2="386.70"/><line x1="712.14" y1="12.20" x2="712.14" y2="26.20"/><line x1="736.23" y1="400.70" x2="736.23" y2="393.70"/><line x1="736.23" y1="12.20" x2="736.23" y2="19.20"/><line x1="760.32" y1="400.70" x2="760.32" y2="386.70"/><line x1="760.32" y1="12.20" x2="760.32" y2="26.20"/><line x1="784.41" y1="400.70" x2="784.41" y2="393.70"/><line x1="784.41" y1="12.20" x2="784.41" y2="19.20"/><line x1="567.60" y1="141.70" x2="581.60" y2="141.70"/><line x1="808.50" y1="141.70" x2="794.50" y2="141.70"/><line x1="567.60" y1="102.72" x2="574.60" y2="102.72"/><line x1="808.50" y1="102.72" x2="801.50" y2="102.72"/><line x1="567.60" y1="79.91" x2="574.60" y2="79.91"/><line x1="808.50" y1="79.91" x2="801.50" y2="79.91"/><line x1="567.60" y1="63.73" x2="574.60" y2="63.73"/><line x1="808.50" y1="63.73" x2="801.50" y2="63.73"/><line x1="567.60" y1="51.18" x2="574.60" y2="51.18"/><line x1="808.50" y1="51.18" x2="801.50" y2="51.18"/><line x1="567.60" y1="40.93" x2="574.60" y2="40.93"/><line x1="808.50" y1="40.93" x2="801.50" y2="40.93"/><line x1="567.60" y1="32.26" x2="574.60" y2="32.26"/><line x1="808.50" y1="32.26" x2="801.50" y2="32.26"/><line x1="567.60" y1="24.75" x2="574.60" y2="24.75"/><line x1="808.50" y1="24.75" x2="801.50" y2="24.75"/><line x1="567.60" y1="18.13" x2="574.60" y2="18.13"/><line x1="808.50" y1="18.13" x2="801.50" y2="18.13"/><line x1="567.60" y1="271.20" x2="581.60" y2="271.20"/><line x1="808.50" y1="271.20" x2="794.50" y2="271.20"/><line x1="567.60" y1="232.22" x2="574.60" y2="232.22"/><line x1="808.50" y1="232.22" x2="801.50" y2="232.22"/><line x1="567.60" y1="209.41" x2="574.60" y2="209.41"/><line x1="808.50" y1="209.41" x2="801.50" y2="209.41"/><line x1="567.60" y1="193.23" x2="574.60" y2="193.23"/><line x1="808.50" y1="193.23" x2="801.50" y2="193.23"/><line x1="567.60" y1="180.68" x2="574.60" y2="180.68"/><line x1="808.50" y1="180.68" x2="801.50" y2="180.68"/><line x1="567.60" y1="170.43" x2="574.60" y2="170.43"/><line x1="808.50" y1="170.43" x2="801.50" y2="170.43"/><line x1="567.60" y1="161.76" x2="574.60" y2="161.76"/><line x1="808.50" y1="161.76" x2="801.50" y2="161.76"/><line x1="567.60" y1="154.25" x2="574.60" y2="154.25"/><line x1="808.50" y1="154.25" x2="801.50" y2="154.25"/><line x1="567.60" y1="147.63" x2="574.60" y2="147.63"/><line x1="808.50" y1="147.63" x2="801.50" y2="147.63"/><line x1="567.60" y1="361.72" x2="574.60" y2="361.72"/><line x1="808.50" y1="361.72" x2="801.50" y2="361.72"/><line x1="567.60" y1="338.91" x2="574.60" y2="338.91"/><line x1="808.50" y1="338.91" x2="801.50" y2="338.91"/><line x1="567.60" y1="322.73" x2="574.60" y2="322.73"/><line x1="808.50" y1="322.73" x2="801.50" y2="322.73"/><line x1="567.60" y1="310.18" x2="574.60" y2="310.18"/><line x1="808.50" y1="310.18" x2="801.50" y2="310.18"/><line x1="567.60" y1="299.93" x2="574.60" y2="299.93"/><line x1="808.50" y1="299.93" x2="801.50" y2="299.93"/><line x1="567.60" y1="291.26" x2="574.60" y2="291.26"/><line x1="808.50" y1="291.26" x2="801.50" y2="291.26"/><line x1="567.60" y1="283.75" x2="574.60" y2="283.75"/><line x1="808.50" y1="283.75" x2="801.50" y2="283.75"/><line x1="567.60" y1="277.13" x2="574.60" y2="277.13"/><line x1="808.50" y1="277.13" x2="801.50" y2="277.13"/></g>
<rect x="71.50" y="12.20" width="240.80" height="388.50" fill="none" stroke="#000" stroke-width="1.7"/><rect x="319.40" y="12.20" width="240.80" height="388.50" fill="none" stroke="#000" stroke-width="1.7"/><rect x="567.60" y="12.20" width="240.90" height="388.50" fill="none" stroke="#000" stroke-width="1.7"/>
<text x="71.5" y="421.6" text-anchor="middle" font-size="19.6" font-family="Liberation Serif, serif">0</text>
<text x="119.7" y="421.6" text-anchor="middle" font-size="19.6" font-family="Liberation Serif, serif">0.2</text>
<text x="167.8" y="421.6" text-anchor="middle" font-size="19.6" font-family="Liberation Serif, serif">0.4</text>
<text x="216.0" y="421.6" text-anchor="middle" font-size="19.6" font-family="Liberation Serif, serif">0.6</text>
<text x="264.1" y="421.6" text-anchor="middle" font-size="19.6" font-family="Liberation Serif, serif">0.8</text>
<text x="312.3" y="421.6" text-anchor="middle" font-size="19.6" font-family="Liberation Serif, serif">1</text>
<text x="367.6" y="421.6" text-anchor="middle" font-size="19.6" font-family="Liberation Serif, serif">0.2</text>
<text x="415.7" y="421.6" text-anchor="middle" font-size="19.6" font-family="Liberation Serif, serif">0.4</text>
<text x="463.9" y="421.6" text-anchor="middle" font-size="19.6" font-family="Liberation Serif, serif">0.6</text>
<text x="512.0" y="421.6" text-anchor="middle" font-size="19.6" font-family="Liberation Serif, serif">0.8</text>
<text x="560.2" y="421.6" text-anchor="middle" font-size="19.6" font-family="Liberation Serif, serif">1</text>
<text x="615.8" y="421.6" text-anchor="middle" font-size="19.6" font-family="Liberation Serif, serif">0.2</text>
<text x="664.0" y="421.6" text-anchor="middle" font-size="19.6" font-family="Liberation Serif, serif">0.4</text>
<text x="712.1" y="421.6" text-anchor="middle" font-size="19.6" font-family="Liberation Serif, serif">0.6</text>
<text x="760.3" y="421.6" text-anchor="middle" font-size="19.6" font-family="Liberation Serif, serif">0.8</text>
<text x="808.5" y="421.6" text-anchor="middle" font-size="19.6" font-family="Liberation Serif, serif">1</text>
<text x="34.2" y="23.0" font-size="19.4" font-family="Liberation Serif, serif">10<tspan font-size="14" dy="-11.7">-3</tspan></text>
<text x="34.2" y="152.5" font-size="19.4" font-family="Liberation Serif, serif">10<tspan font-size="14" dy="-11.7">-4</tspan></text>
<text x="34.2" y="282.0" font-size="19.4" font-family="Liberation Serif, serif">10<tspan font-size="14" dy="-11.7">-5</tspan></text>
<text x="34.2" y="411.5" font-size="19.4" font-family="Liberation Serif, serif">10<tspan font-size="14" dy="-11.7">-6</tspan></text>
<text transform="translate(23.0,247) rotate(-90)" font-size="19.6" font-family="Liberation Serif, serif">Δm<tspan font-size="14" dy="-11.7">2</tspan><tspan dy="11.7"> [eV</tspan><tspan font-size="14" dy="-11.7">2</tspan><tspan dy="11.7">]</tspan></text>
<text x="415.0" y="450.0" font-size="19.8" font-family="Liberation Serif, serif">sin<tspan font-size="14" dy="-11.7">2</tspan><tspan dy="11.7">2θ</tspan></text>
<text x="107.7" y="364.5" font-size="18.1" fill="#ff0000" font-family="Liberation Sans, sans-serif">99% and 99.73% CL</text>
<text x="418.4" y="364.5" font-size="18.1" fill="#ff0000" font-family="Liberation Sans, sans-serif">95% CL</text>
<text x="607.4" y="364.5" font-size="18.1" fill="#ff0000" font-family="Liberation Sans, sans-serif">68.3% and 90% CL</text>
</svg>
</body></html>
